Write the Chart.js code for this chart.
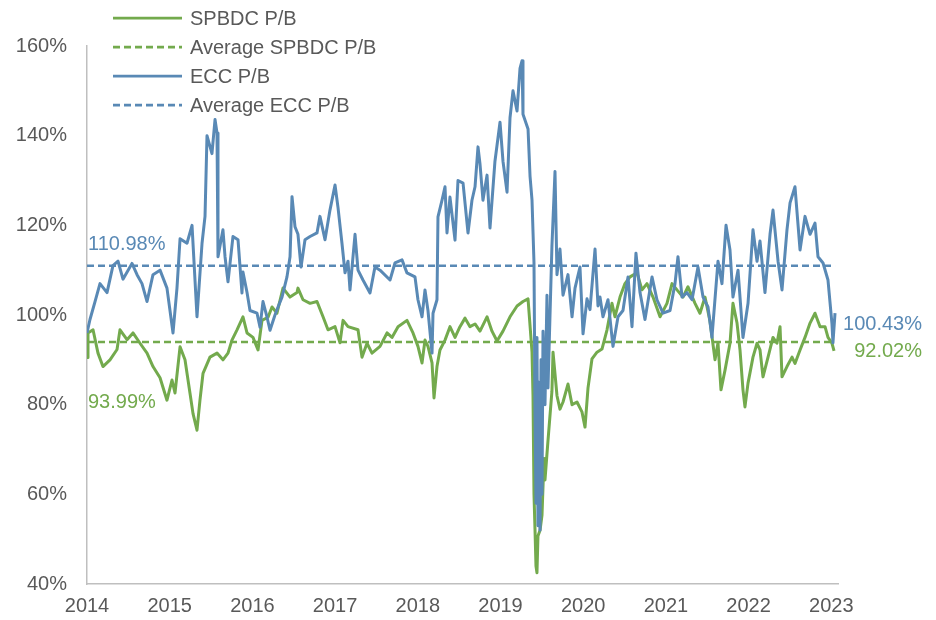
<!DOCTYPE html>
<html>
<head>
<meta charset="utf-8">
<script src="https://cdn.jsdelivr.net/npm/chart.js@4"></script>
<style>
html,body{margin:0;padding:0;background:#fff;}
#wrap{width:936px;height:620px;}
</style>
</head>
<body>
<div id="wrap"><canvas id="c" width="936" height="620"></canvas></div>
<script>
// ---------------- DATA ----------------
const yearTicks = [2014, 2015, 2016, 2017, 2018, 2019, 2020, 2021, 2022, 2023];
const yTicks = [40, 60, 80, 100, 120, 140, 160];

const eccDates = [2014.000,2014.036,2014.097,2014.157,2014.242,2014.314,2014.375,2014.435,2014.544,2014.605,2014.665,2014.726,2014.798,2014.883,2014.967,2015.040,2015.088,2015.125,2015.209,2015.270,2015.330,2015.391,2015.427,2015.451,2015.511,2015.548,2015.572,2015.584,2015.644,2015.669,2015.705,2015.765,2015.826,2015.874,2015.886,2015.935,2015.971,2016.056,2016.092,2016.128,2016.177,2016.213,2016.273,2016.310,2016.358,2016.418,2016.455,2016.479,2016.515,2016.551,2016.588,2016.636,2016.697,2016.781,2016.817,2016.878,2016.938,2016.999,2017.035,2017.083,2017.120,2017.156,2017.180,2017.241,2017.277,2017.337,2017.422,2017.482,2017.543,2017.664,2017.724,2017.809,2017.869,2017.966,2018.002,2018.051,2018.087,2018.123,2018.172,2018.184,2018.232,2018.244,2018.293,2018.329,2018.353,2018.389,2018.450,2018.486,2018.547,2018.607,2018.655,2018.692,2018.728,2018.752,2018.788,2018.837,2018.873,2018.933,2018.994,2019.030,2019.079,2019.115,2019.151,2019.200,2019.236,2019.260,2019.272,2019.333,2019.357,2019.381,2019.405,2019.417,2019.429,2019.441,2019.453,2019.465,2019.478,2019.490,2019.502,2019.514,2019.538,2019.562,2019.574,2019.622,2019.659,2019.683,2019.719,2019.756,2019.816,2019.865,2019.901,2019.961,2019.998,2020.046,2020.082,2020.143,2020.179,2020.203,2020.239,2020.300,2020.360,2020.421,2020.481,2020.542,2020.590,2020.638,2020.687,2020.747,2020.832,2020.892,2020.965,2021.050,2021.110,2021.146,2021.195,2021.255,2021.316,2021.388,2021.449,2021.509,2021.557,2021.630,2021.678,2021.727,2021.775,2021.811,2021.872,2021.932,2021.993,2022.053,2022.102,2022.138,2022.198,2022.259,2022.295,2022.356,2022.404,2022.464,2022.501,2022.561,2022.622,2022.682,2022.743,2022.803,2022.839,2022.900,2022.960,2023.008,2023.020,2023.045];
const eccValues = [96,99,103,107,105,111,112,108,111.5,109,107,103,109,110,106,96,106,117,116,120,99.6,116,122,140,136,143.6,140.6,113,119,113,107.4,117.5,116.8,104.9,109.6,105,101,100.4,97.3,103,99.5,96.6,100,101.8,104,108.5,113,126.4,119.7,118,110.7,116.8,117.5,118.3,122,116.8,123.4,129,124,116,109.4,112,105.6,118,110,107.8,104.9,110.7,110,107.8,111.6,112.3,109.4,108.5,103.4,99.6,105.6,101,91.5,100.4,103.4,121.9,125.6,128.6,118.3,126.3,116.7,130,129.4,118.3,125.6,128.6,137.5,133.7,125.6,131.2,119.4,134.3,143,134.3,127.4,144,150,145.5,155,156.7,144.8,141.5,131,125.6,111.6,80,58,95,53,85,52,90,60,96.4,80,104.4,83.7,115.4,132,109,114.7,104.4,109,99.6,106,110.7,95.8,103.6,101.2,114.7,102,104,99.6,103.4,93,99.6,101,108.5,97.4,113.8,105,99,108.5,103.4,100.4,101,107,113,104,105,103.4,110.7,104,101.8,95,112,107,120,114.5,104,110,95,102.6,119,112,116.5,105,118,123.4,112,105.6,119,125,128.6,114.5,122,118,120.5,113,111.6,107.8,98,93.8,100.43];

const spbdcDates = [2014.000,2014.012,2014.073,2014.133,2014.193,2014.278,2014.363,2014.399,2014.484,2014.556,2014.641,2014.726,2014.798,2014.883,2014.967,2015.028,2015.064,2015.125,2015.185,2015.245,2015.282,2015.330,2015.366,2015.403,2015.487,2015.572,2015.644,2015.705,2015.753,2015.814,2015.886,2015.935,2016.007,2016.068,2016.116,2016.189,2016.237,2016.297,2016.370,2016.455,2016.539,2016.551,2016.612,2016.697,2016.781,2016.854,2016.914,2016.999,2017.059,2017.096,2017.156,2017.277,2017.325,2017.386,2017.446,2017.543,2017.628,2017.688,2017.761,2017.869,2017.942,2018.002,2018.051,2018.087,2018.123,2018.172,2018.196,2018.232,2018.268,2018.329,2018.389,2018.450,2018.510,2018.571,2018.631,2018.692,2018.752,2018.837,2018.897,2018.958,2019.030,2019.115,2019.200,2019.272,2019.333,2019.381,2019.393,2019.405,2019.417,2019.429,2019.441,2019.453,2019.478,2019.502,2019.526,2019.538,2019.574,2019.622,2019.635,2019.683,2019.719,2019.756,2019.816,2019.865,2019.925,2019.985,2020.022,2020.058,2020.106,2020.167,2020.227,2020.288,2020.348,2020.384,2020.445,2020.505,2020.566,2020.651,2020.711,2020.771,2020.844,2020.929,2021.013,2021.074,2021.134,2021.207,2021.267,2021.352,2021.412,2021.473,2021.533,2021.594,2021.630,2021.666,2021.715,2021.775,2021.811,2021.860,2021.896,2021.932,2021.956,2021.993,2022.053,2022.102,2022.138,2022.174,2022.235,2022.295,2022.343,2022.380,2022.404,2022.464,2022.525,2022.561,2022.622,2022.682,2022.743,2022.803,2022.864,2022.924,2022.960,2023.008,2023.033];
const spbdcValues = [90.5,96,96.7,91.5,88.5,90,92.3,96.7,94.5,96,93.7,91.5,88.5,86,81,85.5,82.6,92.9,90,82.6,78,74.3,81,87,90.6,91.5,90,91.5,94.4,96.7,99.6,96,95,92.2,98.8,99.5,101.8,100.4,106,104,105,106,103.4,102.6,103,99.6,96.7,97.4,93.8,98.8,97.4,96.7,90.6,93.7,91.5,93,96,95,97.4,98.8,96,93,89.3,94.4,93,89.3,81.5,88.5,92.2,94.4,97.4,95,97.4,99.3,97.4,98,96.4,99.6,96.4,94.2,96.4,99.6,102,103,103.6,91.7,82,60,52.3,44,42.5,50.7,52,55.4,68,63.2,71.9,83,91.7,82,79,80.6,84.6,80,80.6,78.4,75,83.7,90.2,91.7,92.4,96.7,102.6,99.6,104,107,108.5,109.4,105.6,107,104,99.6,102.6,107,105.6,104,106.3,102.6,100.4,104,98.6,90,93.8,83.3,87.7,93.7,102.6,98.2,92.2,83.3,79.5,84.8,90.6,93.7,92.2,86.2,90.6,95,93.7,97.4,86.2,88.5,90.6,89.2,92.2,95,98.2,100.4,97.4,97.4,95,93.7,92.02];

const avgSPBDC = 93.99;
const avgECC = 110.98;

const seriesNames = ['SPBDC P/B', 'Average SPBDC P/B', 'ECC P/B', 'Average ECC P/B'];

// ---------------- STYLE ----------------
const GREEN = '#73aa4d';
const BLUE = '#5989b5';
const TEXT = '#595959';
const AXIS = '#bfbfbf';
const FONT = '"Liberation Sans", Arial, sans-serif';

const toPts = (xs, ys) => xs.map((x, i) => ({x: x, y: ys[i]}));
const eccLast = eccDates[eccDates.length - 1];
const spLast = spbdcDates[spbdcDates.length - 1];

const datasets = [
  {label: seriesNames[2], data: toPts(eccDates, eccValues), borderColor: BLUE, borderWidth: 3, pointRadius: 0, tension: 0, order: 0, borderJoinStyle: 'round'},
  {label: seriesNames[0], data: toPts(spbdcDates, spbdcValues), borderColor: GREEN, borderWidth: 3, pointRadius: 0, tension: 0, order: 1, borderJoinStyle: 'round'},
  {label: seriesNames[3], data: [{x: eccDates[0], y: avgECC}, {x: eccLast, y: avgECC}], borderColor: BLUE, borderWidth: 2.5, borderDash: [7, 4], pointRadius: 0, order: 2},
  {label: seriesNames[1], data: [{x: spbdcDates[0], y: avgSPBDC}, {x: spLast, y: avgSPBDC}], borderColor: GREEN, borderWidth: 2.5, borderDash: [7, 4], pointRadius: 0, order: 3}
];

const legendItems = [
  {text: seriesNames[0], color: GREEN, dash: []},
  {text: seriesNames[1], color: GREEN, dash: [7, 4]},
  {text: seriesNames[2], color: BLUE, dash: []},
  {text: seriesNames[3], color: BLUE, dash: [7, 4]}
];

const customLegend = {
  id: 'customLegend',
  afterDraw(chart) {
    const ctx = chart.ctx;
    ctx.save();
    ctx.font = '20px ' + FONT;
    ctx.textBaseline = 'middle';
    ctx.textAlign = 'left';
    legendItems.forEach((it, i) => {
      const y = 18 + i * 29;
      ctx.beginPath();
      ctx.setLineDash(it.dash);
      ctx.strokeStyle = it.color;
      ctx.lineWidth = 2.75;
      ctx.moveTo(113, y);
      ctx.lineTo(182, y);
      ctx.stroke();
      ctx.setLineDash([]);
      ctx.fillStyle = TEXT;
      ctx.fillText(it.text, 190, y + 1);
    });
    ctx.restore();
  }
};

const valueLabels = {
  id: 'valueLabels',
  afterDatasetsDraw(chart) {
    const ctx = chart.ctx;
    const xs = chart.scales.x, ys = chart.scales.y;
    ctx.save();
    ctx.font = '20px ' + FONT;
    ctx.textBaseline = 'middle';
    ctx.textAlign = 'left';
    const left = xs.getPixelForValue(eccDates[0]) + 1;
    ctx.fillStyle = BLUE;
    ctx.fillText(avgECC.toFixed(2) + '%', left, ys.getPixelForValue(avgECC) - 21);
    ctx.fillStyle = GREEN;
    ctx.fillText(avgSPBDC.toFixed(2) + '%', left, ys.getPixelForValue(avgSPBDC) + 61);
    ctx.textAlign = 'right';
    const lastEcc = eccValues[eccValues.length - 1];
    const lastSp = spbdcValues[spbdcValues.length - 1];
    ctx.fillStyle = BLUE;
    ctx.fillText(lastEcc.toFixed(2) + '%', 922, ys.getPixelForValue(lastEcc) + 11);
    ctx.fillStyle = GREEN;
    ctx.fillText(lastSp.toFixed(2) + '%', 922, ys.getPixelForValue(lastSp) + 1);
    ctx.restore();
  }
};

new Chart(document.getElementById('c'), {
  type: 'line',
  data: {datasets: datasets},
  options: {
    responsive: false,
    animation: false,
    devicePixelRatio: 1,
    layout: {padding: {top: 46, right: 98, left: 0, bottom: 0}},
    plugins: {legend: {display: false}, tooltip: {enabled: false}},
    scales: {
      x: {
        type: 'linear',
        min: yearTicks[0],
        max: 2023.081,
        afterBuildTicks: (s) => { s.ticks = yearTicks.map(v => ({value: v})); },
        afterFit: (s) => { s.height = 36; },
        grid: {display: false, drawTicks: false},
        border: {display: true, color: AXIS, width: 1.5},
        ticks: {color: TEXT, font: {family: FONT, size: 20}, padding: 10, maxRotation: 0, autoSkip: false, callback: (v) => String(v)}
      },
      y: {
        type: 'linear',
        min: yTicks[0],
        max: yTicks[yTicks.length - 1],
        afterBuildTicks: (s) => { s.ticks = yTicks.map(v => ({value: v})); },
        afterFit: (s) => { s.width = 87; },
        grid: {display: false, drawTicks: false},
        border: {display: true, color: AXIS, width: 1.5},
        ticks: {color: TEXT, font: {family: FONT, size: 20}, padding: 20, callback: (v) => v + '%'}
      }
    }
  },
  plugins: [customLegend, valueLabels]
});
</script>
</body>
</html>
